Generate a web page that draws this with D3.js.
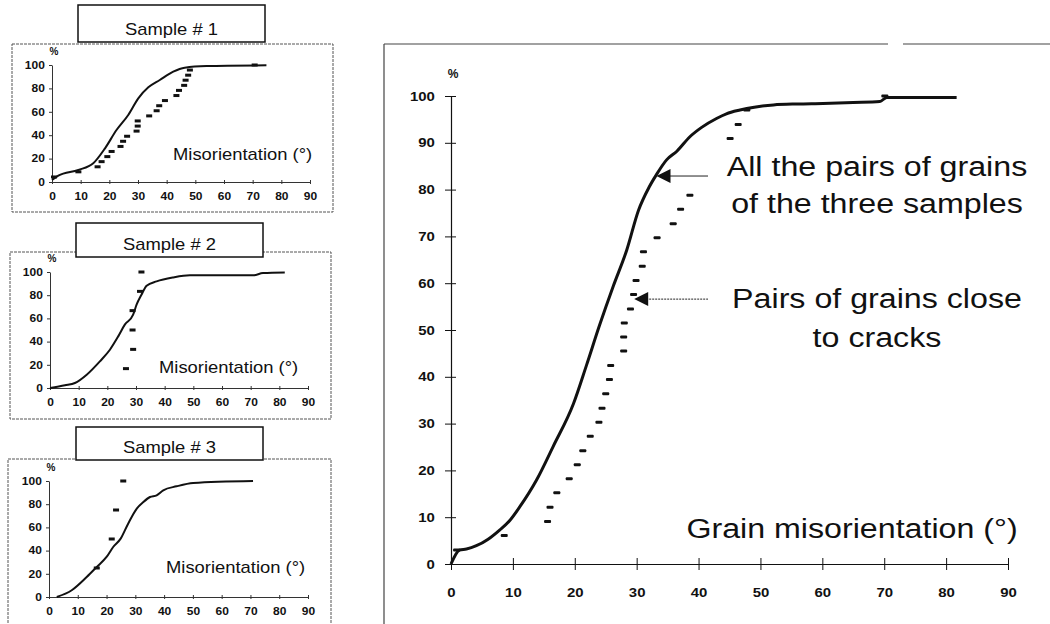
<!DOCTYPE html>
<html>
<head>
<meta charset="utf-8">
<script src="https://cdn.jsdelivr.net/npm/d3@7/dist/d3.min.js"></script>
<style>
  body { margin: 0; background: #fff; }
  svg { display: block; font-family: "Liberation Sans", Arial, sans-serif; }
</style>
</head>
<body>
<div id="chart-area"></div>
<script>
// tick labels
const xTicks = [0, 10, 20, 30, 40, 50, 60, 70, 80, 90]
const mainYTicks = [0, 10, 20, 30, 40, 50, 60, 70, 80, 90, 100]
const smallYTicks = [0, 20, 40, 60, 80, 100]

// main chart: all the pairs of grains (cumulative %)
const allAngle = [0, 1.4, 2.5, 4.1, 6, 7.9, 9.5, 11.1, 13.8, 16.5, 19.8, 21.9, 24.0, 26.2, 28.4, 30.3, 32, 33.2, 34.8, 36.5, 38.6, 40.5, 42.9, 44.5, 46.7, 49, 52.1, 56, 60.1, 65, 69.3, 70.4, 75, 81.7]
const allCum = [0, 3.0, 3.2, 3.9, 5.3, 7.3, 9.3, 12.2, 17.9, 25.1, 34.3, 42.5, 51.0, 59.3, 67.1, 75.6, 80.5, 83.2, 86.3, 88.2, 91.3, 93.3, 95.2, 96.2, 97.0, 97.6, 98.1, 98.3, 98.4, 98.6, 98.8, 99.7, 99.7, 99.7]

// main chart: pairs of grains close to cracks
const crackAngle = [0.9, 8.6, 15.6, 16.0, 17.1, 19.1, 20.4, 21.3, 22.5, 23.9, 24.4, 25.0, 25.6, 25.8, 27.9, 27.9, 28.0, 29.0, 29.5, 29.9, 30.9, 31.1, 33.3, 35.9, 37.1, 38.6, 45.1, 46.4, 47.8, 70.1]
const crackCum = [3.0, 6.1, 9.1, 12.1, 15.2, 18.2, 21.2, 24.2, 27.3, 30.3, 33.3, 36.4, 39.4, 42.4, 45.5, 48.5, 51.5, 54.5, 57.6, 60.6, 63.6, 66.7, 69.7, 72.7, 75.8, 78.8, 90.9, 93.9, 97.0, 100]

// sample 1
const s1Angle = [0, 2.2, 9.2, 14.4, 18.5, 22.5, 26.6, 30.1, 33.6, 37.6, 42.3, 46.3, 53.9, 74.8]
const s1Cum = [1.7, 5.4, 10.3, 16, 28.8, 44.4, 57.3, 71.5, 80.9, 87.2, 94.3, 97.7, 99.1, 99.7]
const s1CrackAngle = [0.7, 9.2, 15.9, 17.3, 19.3, 20.8, 23.9, 24.8, 26.2, 29.5, 29.9, 29.9, 33.9, 36.5, 37.4, 39.4, 43.4, 44.3, 46.1, 46.6, 47.5, 48.1, 70.7]
const s1CrackCum = [4.3, 8.7, 13.0, 17.4, 21.7, 26.1, 30.4, 34.8, 39.1, 43.5, 47.8, 52.2, 56.5, 60.9, 65.2, 69.6, 73.9, 78.3, 82.6, 87.0, 91.3, 95.7, 100]

// sample 2
const s2Angle = [0, 5.2, 8.7, 12.8, 17.4, 20.9, 23.8, 26.1, 29.0, 30.2, 31.9, 33.7, 37.2, 43, 48.8, 70.8, 74.3, 81.9]
const s2Cum = [0, 2.3, 4.3, 11.5, 23, 33, 44.5, 54.6, 63.2, 71.8, 80.4, 88.2, 91.9, 95.3, 97.1, 97.1, 99.1, 99.6]
const s2CrackAngle = [26.5, 29.0, 28.8, 28.8, 31.4, 31.9]
const s2CrackCum = [16.7, 33.3, 50, 66.7, 83.3, 100]

// sample 3
const s3Angle = [2.7, 7.9, 13.1, 16.6, 20, 22.3, 24.9, 27.5, 30.5, 32.8, 35.1, 37.4, 39.7, 44.3, 50.1, 70.9]
const s3Cum = [0, 5.8, 17.2, 25.9, 34.5, 43.1, 50.3, 63.2, 76.2, 81.9, 86.2, 87.7, 92, 95.4, 98.3, 100]
const s3CrackAngle = [16.6, 21.8, 23.3, 25.8]
const s3CrackCum = [25, 50, 75, 100]

const sampleTitles = ["Sample # 1", "Sample # 2", "Sample # 3"]
const smallXLabel = "Misorientation (°)"
const mainXLabel = "Grain misorientation (°)"
const allLabel = ["All the pairs of grains", "of the three samples"]
const crackLabel = ["Pairs of grains close", "to cracks"]

const W = 1050, H = 624
const SX = 1.15   // the scan is a bit wider than a plain sans face

const svg = d3.select("#chart-area").append("svg")
  .attr("width", W)
  .attr("height", H)

function addText(parent, x, y, str, size, opts = {}) {
  return parent.append("text")
    .attr("transform", `translate(${x},${y}) scale(${opts.sx || SX},1)`)
    .attr("text-anchor", opts.anchor || "start")
    .attr("font-size", size + "px")
    .attr("font-weight", opts.weight || "normal")
    .attr("fill", "#111")
    .text(str)
}

const zip = (a, b) => a.map((v, i) => [v, b[i]])

// ---------- main chart ----------
const mx = d3.scaleLinear().domain([0, 90]).range([451, 1008])
const my = d3.scaleLinear().domain([0, 100]).range([564, 96])

// frame (left side + top with a small gap)
svg.append("line")
  .attr("x1", 384).attr("x2", 384).attr("y1", 44).attr("y2", H)
  .attr("stroke", "#444").attr("stroke-width", 1.2)
svg.append("line")
  .attr("x1", 384).attr("x2", 888).attr("y1", 44).attr("y2", 44)
  .attr("stroke", "#444").attr("stroke-width", 1.2)
svg.append("line")
  .attr("x1", 903).attr("x2", W).attr("y1", 44).attr("y2", 44)
  .attr("stroke", "#444").attr("stroke-width", 1.2)

const yAxisMain = svg.append("g")
  .attr("transform", `translate(${mx(0)},0)`)
  .call(d3.axisLeft(my).tickValues(mainYTicks).tickSize(6).tickSizeOuter(0).tickPadding(8))
yAxisMain.select(".domain").attr("stroke", "#111").attr("stroke-width", 1.2)
yAxisMain.selectAll(".tick line").attr("x1", 5).attr("stroke", "#111")
yAxisMain.selectAll("text")
  .attr("font-size", "13px").attr("font-weight", "bold").attr("fill", "#111")
  .attr("font-family", "Liberation Sans, Arial, sans-serif")
  .attr("transform", `scale(${SX},1)`)

const xAxisMain = svg.append("g")
  .attr("transform", `translate(0,${my(0)})`)
  .call(d3.axisBottom(mx).tickValues(xTicks).tickSize(6).tickSizeOuter(0).tickPadding(18))
xAxisMain.select(".domain").attr("stroke", "#111").attr("stroke-width", 1.2)
xAxisMain.selectAll(".tick line").attr("y1", -6).attr("stroke", "#111")
xAxisMain.selectAll("text")
  .attr("font-size", "13px").attr("font-weight", "bold").attr("fill", "#111")
  .attr("font-family", "Liberation Sans, Arial, sans-serif")
  .attr("transform", `scale(${SX},1)`)

addText(svg, mx(0) + 2, 78, "%", 12, { weight: "bold", anchor: "middle", sx: 1 })

svg.append("path")
  .datum(zip(allAngle, allCum))
  .attr("fill", "none")
  .attr("stroke", "#111")
  .attr("stroke-width", 3)
  .attr("stroke-linejoin", "round")
  .attr("d", d3.line().x(d => mx(d[0])).y(d => my(d[1])).curve(d3.curveMonotoneX))

svg.selectAll(".crack-main")
  .data(zip(crackAngle, crackCum))
  .enter().append("rect")
    .attr("class", "crack-main")
    .attr("x", d => mx(d[0]) - 3.5)
    .attr("y", d => my(d[1]) - 1.5)
    .attr("width", 7)
    .attr("height", 3)
    .attr("rx", 1)
    .attr("fill", "#111")

// annotations
const ann = svg.append("g")
allLabel.forEach((t, i) => addText(ann, 877, 176 + i * 37, t, 28, { anchor: "middle" }))
crackLabel.forEach((t, i) => addText(ann, 877, 308 + i * 39, t, 28, { anchor: "middle" }))
addText(ann, 852, 538, mainXLabel, 28, { anchor: "middle" })

function arrow(tipX, tipY, endX, dashed) {
  ann.append("line")
    .attr("x1", tipX + 12).attr("x2", endX)
    .attr("y1", tipY).attr("y2", tipY)
    .attr("stroke", "#222").attr("stroke-width", 1)
    .attr("stroke-dasharray", dashed ? "2,1" : null)
  ann.append("path")
    .attr("d", `M${tipX},${tipY} L${tipX + 14},${tipY - 7} L${tipX + 14},${tipY + 7} Z`)
    .attr("fill", "#111")
}
arrow(mx(33.2), my(82.9), 708, false)
arrow(mx(29.6), my(56.6), 708, true)

// ---------- small sample charts ----------
const panels = [
  { frame: [12, 44, 333, 212], x0: 52, x90: 310, y0: 182, y100: 65, box: [78, 5, 265, 42], titleY: 35, labelX: 173, labelY: 160,
    curve: zip(s1Angle, s1Cum), cracks: zip(s1CrackAngle, s1CrackCum) },
  { frame: [10, 252, 331, 419], x0: 50, x90: 308, y0: 388, y100: 272, box: [76, 223, 263, 257], titleY: 250, labelX: 159, labelY: 373,
    curve: zip(s2Angle, s2Cum), cracks: zip(s2CrackAngle, s2CrackCum) },
  { frame: [8, 459, 331, 640], x0: 49, x90: 308, y0: 597, y100: 481, box: [76, 427, 263, 460], titleY: 453, labelX: 166, labelY: 573,
    curve: zip(s3Angle, s3Cum), cracks: zip(s3CrackAngle, s3CrackCum) }
]

panels.forEach((p, i) => {
  const g = svg.append("g")
  const [fx0, fy0, fx1, fy1] = p.frame
  g.append("rect")
    .attr("x", fx0).attr("y", fy0)
    .attr("width", fx1 - fx0).attr("height", fy1 - fy0)
    .attr("fill", "none")
    .attr("stroke", "#555")
    .attr("stroke-width", 1)
    .attr("stroke-dasharray", "3,1")

  const x = d3.scaleLinear().domain([0, 90]).range([p.x0, p.x90])
  const y = d3.scaleLinear().domain([0, 100]).range([p.y0, p.y100])

  const ya = g.append("g")
    .attr("transform", `translate(${x(0)},0)`)
    .call(d3.axisLeft(y).tickValues(smallYTicks).tickSize(3).tickSizeOuter(0).tickPadding(3))
  ya.select(".domain").attr("stroke", "#333")
  ya.selectAll(".tick line").attr("stroke", "#333")
  ya.selectAll("text")
    .attr("font-size", "10px").attr("font-weight", "bold").attr("fill", "#111")
    .attr("font-family", "Liberation Sans, Arial, sans-serif")
    .attr("transform", "scale(1.2,1)")

  const xa = g.append("g")
    .attr("transform", `translate(0,${y(0)})`)
    .call(d3.axisBottom(x).tickValues(xTicks).tickSize(2).tickSizeOuter(0).tickPadding(9))
  xa.select(".domain").attr("stroke", "#333")
  xa.selectAll(".tick line").attr("y1", -2).attr("stroke", "#333")
  xa.selectAll("text")
    .attr("font-size", "10px").attr("font-weight", "bold").attr("fill", "#111")
    .attr("font-family", "Liberation Sans, Arial, sans-serif")
    .attr("transform", "scale(1.2,1)")

  addText(g, x(0) + 2, y(100) - 10, "%", 10, { weight: "bold", anchor: "middle", sx: 1 })

  g.append("path")
    .datum(p.curve)
    .attr("fill", "none")
    .attr("stroke", "#111")
    .attr("stroke-width", 2)
    .attr("d", d3.line().x(d => x(d[0])).y(d => y(d[1])).curve(d3.curveMonotoneX))

  g.selectAll(".crack")
    .data(p.cracks)
    .enter().append("rect")
      .attr("class", "crack")
      .attr("x", d => x(d[0]) - 3)
      .attr("y", d => y(d[1]) - 1.5)
      .attr("width", 6)
      .attr("height", 3)
      .attr("fill", "#111")

  addText(g, p.labelX, p.labelY, smallXLabel, 16)

  // title box
  const [bx0, by0, bx1, by1] = p.box
  g.append("rect")
    .attr("x", bx0).attr("y", by0)
    .attr("width", bx1 - bx0).attr("height", by1 - by0)
    .attr("fill", "#fff")
    .attr("stroke", "#111")
    .attr("stroke-width", 1.5)
  addText(g, (bx0 + bx1) / 2, p.titleY, sampleTitles[i], 16, { anchor: "middle" })
})
</script>
</body>
</html>
